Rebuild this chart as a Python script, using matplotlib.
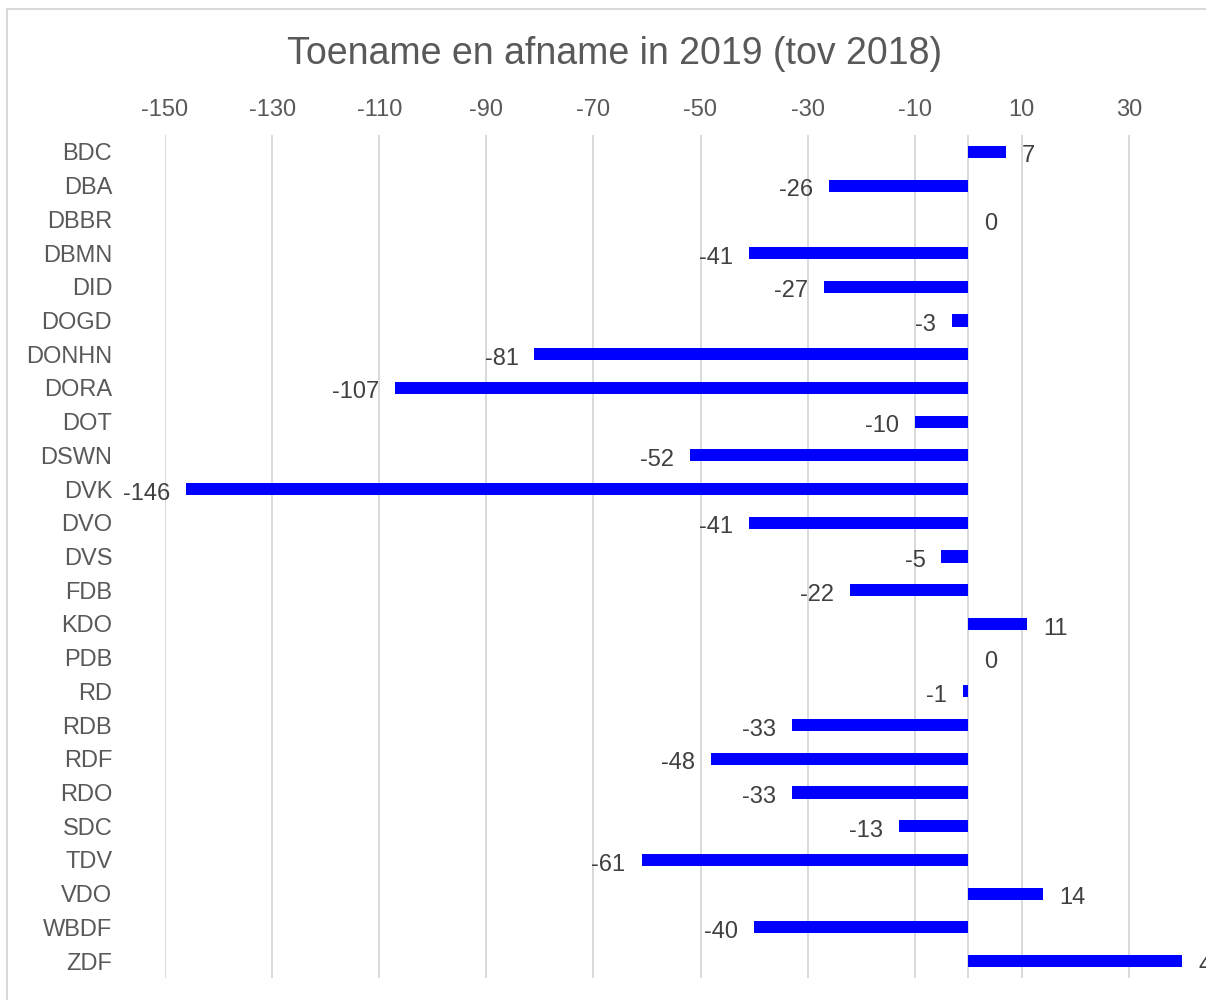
import matplotlib
matplotlib.use('Agg')
import matplotlib.pyplot as plt
from matplotlib.lines import Line2D

plt.rcParams['font.family'] = ['Liberation Sans', 'DejaVu Sans']
plt.rcParams['axes.unicode_minus'] = False

# data
afdelingen = ['BDC', 'DBA', 'DBBR', 'DBMN', 'DID', 'DOGD', 'DONHN', 'DORA', 'DOT',
              'DSWN', 'DVK', 'DVO', 'DVS', 'FDB', 'KDO', 'PDB', 'RD', 'RDB', 'RDF',
              'RDO', 'SDC', 'TDV', 'VDO', 'WBDF', 'ZDF']
verschil = [7, -26, 0, -41, -27, -3, -81, -107, -10, -52, -146, -41, -5, -22, 11,
            0, -1, -33, -48, -33, -13, -61, 14, -40, 40]
xticks = list(range(-150, 31, 20))

grid_col = '#d9d9d9'
text_col = '#595959'
label_col = '#404040'

fig = plt.figure(figsize=(12.06, 10), dpi=100)
# axes run past the right edge, as in the cropped reference
ax = fig.add_axes([165/1206, 0.022, (1236 - 165)/1206, 0.843])

ypos = list(range(len(afdelingen)))
ax.barh(ypos, verschil, height=0.36, color='#0000ff', zorder=3)

ax.set_xlim(-150, 50)
ax.set_ylim(len(afdelingen) - 0.5, -0.5)
ax.set_xticks(xticks)
ax.set_yticks(ypos)
ax.set_yticklabels(afdelingen)

ax.xaxis.tick_top()
ax.tick_params(axis='x', length=0, pad=10, labelsize=17, labelcolor=text_col)
ax.tick_params(axis='y', length=0, pad=38, labelsize=17, labelcolor=text_col)
ax.grid(axis='x', color=grid_col, linewidth=1.4, zorder=0)
ax.axvline(0, color=grid_col, linewidth=1.4, zorder=1)
for s in ax.spines.values():
    s.set_visible(False)

# data labels just beyond the bar end
for y, v in zip(ypos, verschil):
    if v < 0:
        ax.annotate(str(v), (v, y), xytext=(-11.5, -1.5), textcoords='offset points',
                    ha='right', va='center_baseline', fontsize=17, color=label_col,
                    annotation_clip=False)
    else:
        ax.annotate(str(v), (v, y), xytext=(11.5, -1.5), textcoords='offset points',
                    ha='left', va='center_baseline', fontsize=17, color=label_col,
                    annotation_clip=False)

fig.text(615/1206, 1 - 54/1000, 'Toename en afname in 2019 (tov 2018)',
         ha='center', va='center', fontsize=27, color=text_col)

# chart frame (top and left edges visible in the crop)
fig.add_artist(Line2D([7/1206, 7/1206], [0, 1 - 9/1000], transform=fig.transFigure,
                      color=grid_col, linewidth=1.5))
fig.add_artist(Line2D([7/1206, 1], [1 - 9/1000, 1 - 9/1000], transform=fig.transFigure,
                      color=grid_col, linewidth=1.5))

fig.savefig('out.png', dpi=100)
